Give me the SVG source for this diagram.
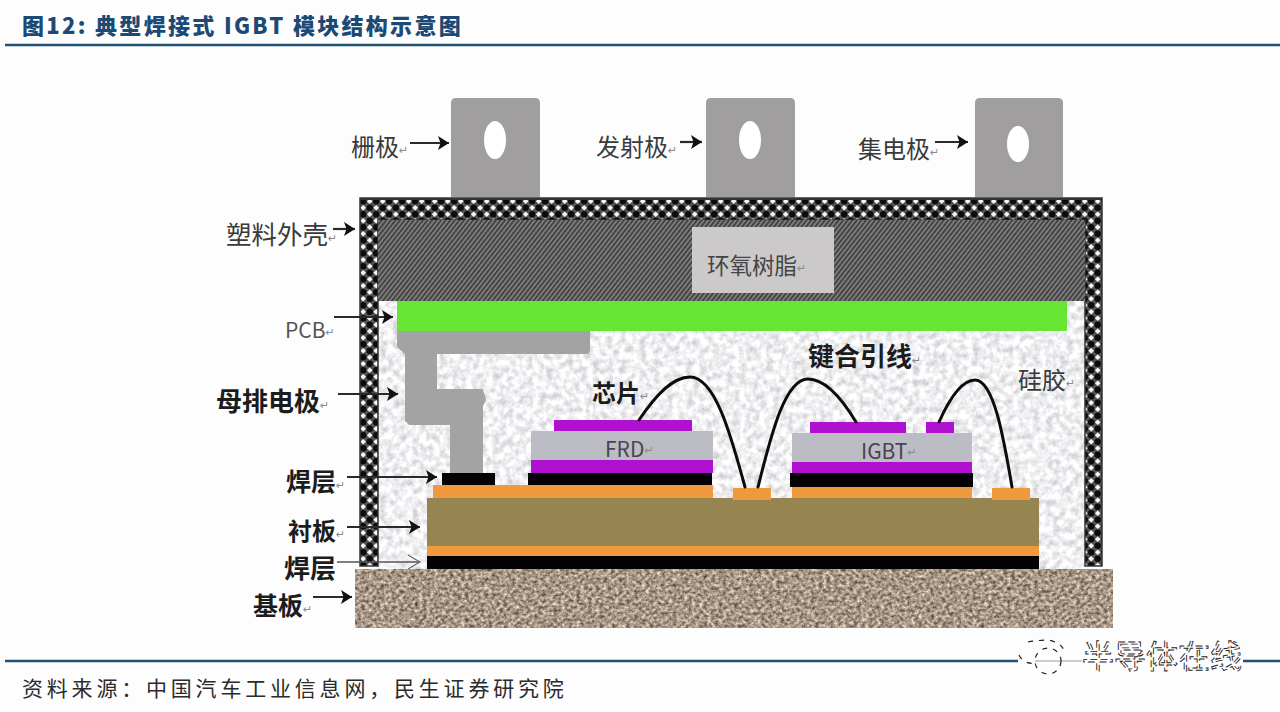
<svg xmlns="http://www.w3.org/2000/svg" width="1280" height="712" viewBox="0 0 1280 712">
<style>
text{font-family:"Noto Sans CJK SC","Liberation Sans",sans-serif}
.lb{fill:#3a3a3a;font-size:24px}
.bd{fill:#1c1c1c;font-weight:700;font-size:25px}
.rm{fill:#8a8a8a;font-size:11px;font-weight:400;font-family:"DejaVu Sans",sans-serif}
.term{fill:#a09e9f}
.hole{fill:#fff}
.cu{fill:#ef9a3e}
.blk{fill:#050205}
.pur{fill:#b011d0}
.chip{fill:#bcbcc4}
.arr{fill:none;stroke:#2a2a2a;stroke-width:2.2;marker-end:url(#ah)}
.wire{fill:none;stroke:#0c0c0c;stroke-width:3;stroke-linecap:round}
.rule{stroke:#1f5273;stroke-width:2.4}
</style>
<defs>
<marker id="ah" markerUnits="userSpaceOnUse" markerWidth="14" markerHeight="16" refX="12" refY="8" orient="auto"><path d="M1 1 L12 8 L1 15 L3.5 8 Z" fill="#111"/></marker>
<marker id="oh" markerUnits="userSpaceOnUse" markerWidth="16" markerHeight="16" refX="14" refY="8" orient="auto"><path d="M2 1 L14 8 L2 15" fill="none" stroke="#666" stroke-width="1.2"/></marker>
<pattern id="shell" width="13" height="13" patternUnits="userSpaceOnUse" x="360" y="198">
<rect width="13" height="13" fill="#555"/>
<circle cx="3.2" cy="3.2" r="3.2" fill="#0c0c0c"/><circle cx="9.7" cy="9.7" r="3.2" fill="#0c0c0c"/>
<path d="M9.7 0.4L12.5 3.2L9.7 6L6.9 3.2Z" fill="#f6f6f6"/><path d="M3.2 6.9L6 9.7L3.2 12.5L0.4 9.7Z" fill="#f6f6f6"/>
</pattern>
<pattern id="epoxy" width="3.6" height="3.6" patternUnits="userSpaceOnUse" patternTransform="rotate(38)">
<rect width="3.6" height="3.6" fill="#7c7c7c"/><rect width="1.6" height="3.6" fill="#3c3c3c"/>
</pattern>
<filter id="sil" x="0" y="0" width="100%" height="100%" color-interpolation-filters="sRGB">
<feTurbulence type="fractalNoise" baseFrequency="0.15" numOctaves="4" seed="4"/>
<feColorMatrix values="0.4 0 0 0 0.74 0.4 0 0 0 0.74 0.38 0 0 0 0.76 0 0 0 0 1"/>
</filter>
<filter id="base" x="0" y="0" width="100%" height="100%" color-interpolation-filters="sRGB">
<feTurbulence type="fractalNoise" baseFrequency="0.26 0.32" numOctaves="3" seed="9"/>
<feColorMatrix values="0.95 0 0 0 0.18 0.9 0 0 0 0.14 0.85 0 0 0 0.1 0 0 0 0 1"/>
</filter>
</defs>

<rect width="1280" height="712" fill="#fdfdfe"/>

<g id="title">
<text x="22" y="34" font-size="22" font-weight="900" fill="#1c4a75" letter-spacing="2.3">图12: 典型焊接式 IGBT 模块结构示意图</text>
<line class="rule" x1="5" y1="45" x2="1280" y2="45"/>
</g>

<g id="terminal-gate"><path class="term" d="M451 197V103q0-5 5-5h79q5 0 5 5v94z"/><ellipse class="hole" cx="495" cy="140" rx="11" ry="19"/></g>
<g id="terminal-emitter"><path class="term" d="M706 197V103q0-5 5-5h79q5 0 5 5v94z"/><ellipse class="hole" cx="750" cy="140" rx="11" ry="19"/></g>
<g id="terminal-collector"><path class="term" d="M975 197V103q0-5 5-5h78q5 0 5 5v94z"/><ellipse class="hole" cx="1018" cy="144" rx="11" ry="18"/></g>

<g id="silicone">
<rect x="378" y="301" width="707" height="268" filter="url(#sil)"/>
</g>

<g id="housing">
<path d="M360 566V198H1102V566H1085V220H378V566Z" fill="url(#shell)" stroke="#333" stroke-width="1.5"/>
<line x1="361" y1="199" x2="1101" y2="199" stroke="#333" stroke-width="2"/>
</g>

<g id="epoxy-resin">
<rect x="378" y="220" width="707" height="81" fill="url(#epoxy)"/>
<rect x="692" y="227" width="142" height="66" fill="#cbc9c9"/>
<text class="lb" x="707" y="274" style="font-size:22.5px;fill:#444">环氧树脂<tspan class="rm" dy="-2">↵</tspan></text>
</g>

<g id="pcb"><rect x="397" y="301" width="670" height="30" fill="#66e633"/></g>

<g id="busbar"><path d="M397 331H590V350Q590 354 586 354H437V389H483L486 400L483 406V473H450V425H409L405 421V354L397 347Z" fill="#a3a3a3"/></g>

<g id="base-plate"><rect x="355" y="569" width="758" height="59" filter="url(#base)"/></g>

<g id="substrate">
<rect x="427" y="498" width="612" height="48" fill="#968550"/>
<rect class="cu" x="427" y="546" width="612" height="10"/>
<rect class="blk" x="427" y="556" width="612" height="13"/>
</g>

<g id="busbar-solder"><rect class="blk" x="442" y="473" width="53" height="12"/></g>
<g id="copper-left"><rect class="cu" x="433" y="485" width="280" height="13"/></g>
<g id="pad-left"><rect class="cu" x="733" y="488" width="38" height="12"/></g>
<g id="copper-right"><rect class="cu" x="792" y="487" width="180" height="11"/></g>
<g id="pad-right"><rect class="cu" x="992" y="488" width="38" height="12"/></g>

<g id="chip-frd">
<rect class="blk" x="528" y="473" width="184" height="12"/>
<rect class="pur" x="531" y="460" width="182" height="13"/>
<rect class="chip" x="531" y="431" width="182" height="29"/>
<rect class="pur" x="554" y="420" width="138" height="11"/>
<text x="605" y="457" font-size="21" fill="#4a4452">FRD<tspan class="rm" dy="-3">↵</tspan></text>
</g>

<g id="chip-igbt">
<rect class="blk" x="790" y="473" width="183" height="14"/>
<rect class="pur" x="792" y="462" width="180" height="11"/>
<rect class="chip" x="792" y="433" width="180" height="29"/>
<rect class="pur" x="810" y="422" width="96" height="11"/>
<rect class="pur" x="926" y="422" width="28" height="11"/>
<text x="861" y="459" font-size="21" fill="#4a4452">IGBT<tspan class="rm" dy="-3">↵</tspan></text>
</g>

<g id="connectors">
<path class="wire" d="M639 420C655 396 672 377 690 377C716 377 732 440 745 487"/>
<path class="wire" d="M758 487C770 440 784 379 808 379C826 379 844 402 856 422"/>
<path class="wire" d="M939 422C948 402 961 380 975 380C994 380 1004 440 1012 487"/>
<path class="arr" d="M410 143H449"/>
<path class="arr" d="M680 142H702"/>
<path class="arr" d="M935 142H968"/>
<path class="arr" d="M333 229H355"/>
<path class="arr" d="M334 317H393"/>
<path class="arr" d="M338 394H398"/>
<path class="arr" d="M347 477H437"/>
<path class="arr" d="M347 527H420"/>
<path d="M337 562H420" fill="none" stroke="#555" stroke-width="1.3" marker-end="url(#oh)"/>
<path class="arr" d="M313 597H352"/>
</g>

<g id="labels">
<g id="label-gate"><text class="lb" x="351" y="156">栅极<tspan class="rm" dy="-2">↵</tspan></text></g>
<g id="label-emitter"><text class="lb" x="596" y="156">发射极<tspan class="rm" dy="-2">↵</tspan></text></g>
<g id="label-collector"><text class="lb" x="858" y="158">集电极<tspan class="rm" dy="-2">↵</tspan></text></g>
<g id="label-shell"><text class="lb" x="226" y="244" style="font-size:25.5px">塑料外壳<tspan class="rm" dy="-2">↵</tspan></text></g>
<g id="label-pcb"><text class="lb" x="285" y="338" style="font-size:21px;fill:#555">PCB<tspan class="rm" dy="-2">↵</tspan></text></g>
<g id="label-busbar"><text class="bd" x="216" y="411" style="font-size:26px">母排电极<tspan class="rm" dy="-2">↵</tspan></text></g>
<g id="label-solder1"><text class="bd" x="286" y="491">焊层<tspan class="rm" dy="-2">↵</tspan></text></g>
<g id="label-dbc"><text class="bd" x="288" y="540" style="font-size:24px">衬板<tspan class="rm" dy="-2">↵</tspan></text></g>
<g id="label-solder2"><text class="bd" x="284" y="578" style="font-size:26px">焊层</text></g>
<g id="label-base"><text class="bd" x="253" y="615">基板<tspan class="rm" dy="-2">↵</tspan></text></g>
<g id="label-chip"><text class="bd" x="592" y="402" style="font-size:24px">芯片<tspan class="rm" dy="-2">↵</tspan></text></g>
<g id="label-wire"><text class="bd" x="808" y="366" style="font-size:26px">键合引线<tspan class="rm" dy="-2">↵</tspan></text></g>
<g id="label-gel"><text class="lb" x="1018" y="389">硅胶<tspan class="rm" dy="-2">↵</tspan></text></g>
</g>

<g id="footer">
<line class="rule" x1="5" y1="661" x2="1018" y2="661"/>
<line class="rule" x1="1243" y1="661" x2="1280" y2="661"/>
<line x1="1035" y1="661" x2="1082" y2="661" stroke="#bbb" stroke-width="1.5"/>
<text x="22" y="696" font-size="21" fill="#2b2b2b" letter-spacing="3.8">资料来源：中国汽车工业信息网，民生证券研究院</text>
<g id="watermark" fill="none" stroke="#222" stroke-width="1.2" stroke-dasharray="5 6">
<circle cx="1048" cy="661" r="13"/>
<path d="M1019 655Q1024 665 1036 663"/>
<path d="M1028 642Q1040 640 1048 640Q1060 642 1064 650"/>
</g>
<text x="1082" y="668" font-size="32" fill="#fff" stroke="#1a1a1a" stroke-width="0.9" stroke-dasharray="7 3">半导体在线</text>
</g>
</svg>
